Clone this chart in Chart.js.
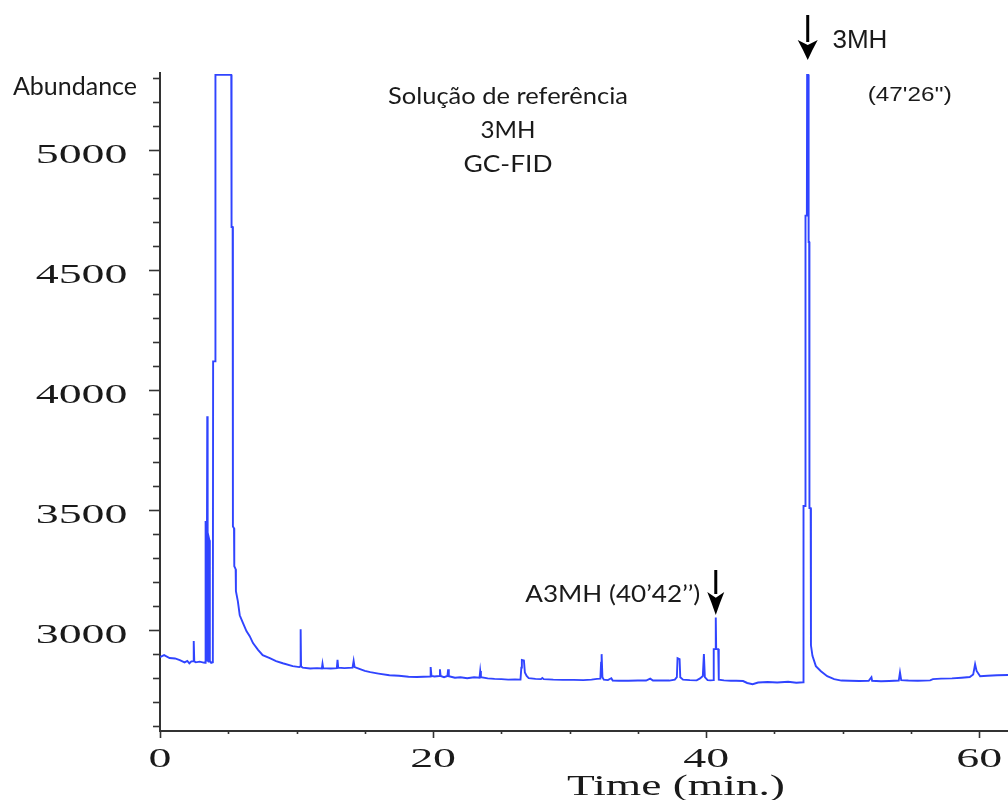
<!DOCTYPE html>
<html lang="pt">
<head>
<meta charset="utf-8">
<title>Solução de referência 3MH – GC-FID</title>
<script src="https://cdn.jsdelivr.net/npm/chart.js@4.4.1/dist/chart.umd.min.js"></script>
<style>
  html, body { margin: 0; padding: 0; background: #ffffff; overflow: hidden; }
  canvas { display: block; }
</style>
</head>
<body>
<canvas id="chrom" width="1008" height="800"></canvas>
<script>
// Retention time (min) of each recorded point of the GC-FID trace
const retentionTimes = [
  0.00, 0.30, 0.70, 1.10, 1.45, 1.80, 2.00, 2.15, 2.30, 2.43, 2.47, 2.51, 2.62, 2.90, 3.20,
  3.31, 3.34, 3.37, 3.39, 3.44, 3.46, 3.49, 3.55, 3.58, 3.62, 3.65, 3.75, 3.87, 3.89, 4.04,
  4.06, 5.22, 5.24, 5.32, 5.34, 5.42, 5.44, 5.54, 5.56, 5.70, 5.84, 6.08, 6.33, 6.57, 6.81,
  7.18, 7.52, 8.04, 8.50, 8.99, 9.72, 10.20, 10.28, 10.30, 10.33, 10.45, 11.00, 11.50, 11.85, 11.90,
  11.95, 12.50, 12.95, 13.00, 13.05, 13.50, 14.10, 14.18, 14.25, 14.60, 15.00, 15.40, 16.00, 16.80, 17.50,
  18.20, 18.80, 19.30, 19.78, 19.82, 19.88, 20.10, 20.45, 20.50, 20.55, 20.80, 21.05, 21.10, 21.15, 21.60,
  22.00, 22.50, 23.00, 23.40, 23.45, 23.50, 24.00, 24.50, 25.00, 25.50, 26.00, 26.40, 26.46, 26.50, 26.65,
  26.72, 26.85, 27.00, 27.50, 27.90, 28.00, 28.10, 28.80, 29.50, 30.30, 31.00, 31.60, 32.00, 32.25, 32.30,
  32.34, 32.40, 32.50, 32.80, 33.05, 33.15, 33.60, 34.30, 35.00, 35.60, 35.90, 36.10, 36.70, 37.30, 37.70,
  37.85, 37.90, 38.05, 38.10, 38.30, 38.80, 39.30, 39.55, 39.75, 39.83, 39.90, 40.10, 40.30, 40.52, 40.55,
  40.67, 40.70, 40.73, 40.88, 40.92, 41.30, 41.80, 42.20, 42.70, 43.00, 43.40, 43.80, 44.50, 45.20, 46.00,
  46.60, 47.10, 47.12, 47.13, 47.25, 47.27, 47.37, 47.39, 47.48, 47.50, 47.54, 47.56, 47.65, 47.67, 47.78,
  48.03, 48.40, 48.86, 49.37, 49.90, 50.50, 51.20, 51.90, 52.10, 52.15, 52.80, 53.40, 54.10, 54.19, 54.28,
  54.80, 55.50, 56.40, 56.60, 57.20, 58.00, 58.70, 59.30, 59.55, 59.69, 59.80, 60.06, 60.60, 61.30, 62.10
];

// Detector abundance at each retention time
const abundance = [
  2888, 2896, 2884, 2882, 2875, 2866, 2872, 2862, 2870, 2870, 2955, 2870, 2866, 2869, 2865,
  2864, 3454, 3444, 2874, 2869, 3891, 2874, 2869, 3384, 3374, 2872, 2864, 2866, 4119, 4119,
  5312, 5312, 4679, 4679, 3432, 3424, 3266, 3254, 3162, 3121, 3062, 3029, 2996, 2975, 2946,
  2918, 2896, 2883, 2871, 2862, 2850, 2846, 2849, 3004, 2849, 2844, 2840, 2842, 2840, 2860,
  2842, 2840, 2842, 2876, 2844, 2842, 2844, 2872, 2846, 2839, 2830, 2825, 2819, 2812, 2810,
  2806, 2805, 2806, 2807, 2846, 2809, 2807, 2809, 2837, 2809, 2804, 2809, 2837, 2808, 2802,
  2804, 2800, 2804, 2802, 2830, 2804, 2799, 2797, 2796, 2794, 2795, 2794, 2844, 2876, 2874,
  2824, 2809, 2800, 2797, 2796, 2801, 2796, 2794, 2793, 2793, 2792, 2794, 2797, 2798, 2864,
  2900, 2804, 2794, 2792, 2800, 2790, 2789, 2789, 2790, 2790, 2798, 2790, 2791, 2790, 2794,
  2804, 2883, 2879, 2804, 2794, 2792, 2791, 2799, 2809, 2900, 2804, 2792, 2791, 2792, 2921,
  2921, 3053, 2921, 2921, 2794, 2791, 2789, 2789, 2788, 2780, 2775, 2782, 2784, 2782, 2785,
  2781, 2783, 2783, 3517, 3517, 4726, 4726, 5312, 5312, 4616, 4616, 3508, 3508, 2937, 2893,
  2850, 2829, 2808, 2796, 2790, 2789, 2788, 2789, 2804, 2789, 2787, 2788, 2790, 2824, 2792,
  2790, 2789, 2791, 2796, 2798, 2799, 2802, 2805, 2815, 2858, 2830, 2808, 2810, 2812, 2813
];

// Axis tick labels
const timeTickLabels = [0, 20, 40, 60];
const abundanceTickLabels = [3000, 3500, 4000, 4500, 5000];

// Identified peaks: name and retention time (min)
const peakNames = ['A3MH', '3MH'];
const peakTimes = [40 + 42 / 60, 47 + 26 / 60];

const points = retentionTimes.map((t, i) => ({ x: t, y: abundance[i] }));

// Draws text squeezed/stretched horizontally by factor sx
function stretchText(ctx, text, x, y, font, sx, align) {
  ctx.save();
  ctx.font = font;
  ctx.textAlign = align;
  ctx.textBaseline = 'alphabetic';
  ctx.translate(x, y);
  ctx.scale(sx, 1);
  ctx.fillText(text, 0, 0);
  ctx.restore();
}

// Draws text scaled horizontally to occupy the given width
function fitText(ctx, text, x, y, font, width, align) {
  ctx.save();
  ctx.font = font;
  const sx = width / ctx.measureText(text).width;
  ctx.restore();
  stretchText(ctx, text, x, y, font, sx, align);
}

// Black downward arrow ending at tipY
function downArrow(ctx, cx, topY, tipY, headLen, headW) {
  ctx.save();
  ctx.fillStyle = '#000';
  ctx.fillRect(cx - 1.5, topY, 3, tipY - headLen - topY + 2);
  ctx.beginPath();
  ctx.moveTo(cx - headW / 2, tipY - headLen);
  ctx.quadraticCurveTo(cx - headW / 4, tipY - headLen * 0.55, cx, tipY);
  ctx.quadraticCurveTo(cx + headW / 4, tipY - headLen * 0.55, cx + headW / 2, tipY - headLen);
  ctx.lineTo(cx, tipY - headLen * 0.75);
  ctx.closePath();
  ctx.fill();
  ctx.restore();
}

const chromDecor = {
  id: 'chromDecor',
  afterDraw(chart) {
    const { ctx, chartArea: area, scales } = chart;
    const xs = scales.x, ys = scales.y;
    const numFont = '27px "Liberation Serif", "Times New Roman", serif';
    const numStretch = 1.7;

    ctx.save();
    ctx.strokeStyle = '#333333';
    ctx.lineWidth = 1.6;

    // Abundance ticks: minor every 100, major every 500
    for (let v = Math.ceil(ys.min / 100) * 100; v <= ys.max; v += 100) {
      const py = Math.round(ys.getPixelForValue(v)) + 0.5;
      const len = v % 500 === 0 ? 11 : 7;
      ctx.beginPath();
      ctx.moveTo(area.left - len, py);
      ctx.lineTo(area.left, py);
      ctx.stroke();
    }
    // Time ticks: minor every 5 min, major every 20 min
    for (let t = 0; t <= xs.max; t += 5) {
      const px = Math.round(xs.getPixelForValue(t)) + 0.5;
      const len = t % 20 === 0 ? 7 : 3;
      ctx.beginPath();
      ctx.moveTo(px, area.bottom);
      ctx.lineTo(px, area.bottom + len);
      ctx.stroke();
    }

    ctx.fillStyle = '#1a1a1a';
    abundanceTickLabels.forEach(v => {
      stretchText(ctx, String(v), 127.5, ys.getPixelForValue(v) + 13, numFont, numStretch, 'right');
    });
    timeTickLabels.forEach(t => {
      stretchText(ctx, String(t), xs.getPixelForValue(t), 767, numFont, numStretch, 'center');
    });

    // Axis titles
    fitText(ctx, 'Time (min.)', 676, 795, '29px "Liberation Serif", "Times New Roman", serif', 218, 'center');
    fitText(ctx, 'Abundance', 13, 95, '25px Lato, "Open Sans", sans-serif', 124, 'left');

    // Sample description
    const sansFont = '23px Lato, "Open Sans", sans-serif';
    fitText(ctx, 'Solução de referência', 508, 104, sansFont, 240, 'center');
    fitText(ctx, '3MH', 508, 138, sansFont, 55, 'center');
    fitText(ctx, 'GC-FID', 508, 172, sansFont, 89, 'center');

    // A3MH peak marker
    const ax = xs.getPixelForValue(peakTimes[0]);
    downArrow(ctx, ax, 570, 615, 23, 17);
    ctx.fillStyle = '#1a1a1a';
    fitText(ctx, peakNames[0] + ' (40’42’’)', ax - 15.5, 602, sansFont, 175, 'right');

    // 3MH peak marker
    const mx = xs.getPixelForValue(peakTimes[1]);
    downArrow(ctx, mx, 15, 60, 20, 20);
    ctx.fillStyle = '#1a1a1a';
    fitText(ctx, peakNames[1], mx + 24.7, 48, '25px "Liberation Sans", Arial, sans-serif', 55, 'left');
    fitText(ctx, "(47'26'')", mx + 60, 101, '21px "Liberation Sans", Arial, sans-serif', 84, 'left');

    ctx.restore();
  }
};

new Chart(document.getElementById('chrom'), {
  type: 'line',
  data: {
    datasets: [{
      data: points,
      borderColor: 'rgb(48, 68, 255)',
      borderWidth: 1.9,
      pointRadius: 0,
      tension: 0,
      fill: false
    }]
  },
  options: {
    responsive: false,
    animation: false,
    events: [],
    layout: { padding: { top: 73, right: 0, bottom: 0, left: 0 } },
    plugins: {
      legend: { display: false },
      tooltip: { enabled: false }
    },
    scales: {
      x: {
        type: 'linear',
        min: 0,
        max: 62.1,
        grid: { display: false, drawTicks: false },
        border: { display: true, color: '#333333', width: 2 },
        ticks: { display: false },
        afterFit(scale) { scale.height = 69; }
      },
      y: {
        type: 'linear',
        min: 2580,
        max: 5320,
        grid: { display: false, drawTicks: false },
        border: { display: true, color: '#333333', width: 2 },
        ticks: { display: false, stepSize: 100 },
        afterFit(scale) { scale.width = 160; }
      }
    }
  },
  plugins: [chromDecor]
});
</script>
</body>
</html>
